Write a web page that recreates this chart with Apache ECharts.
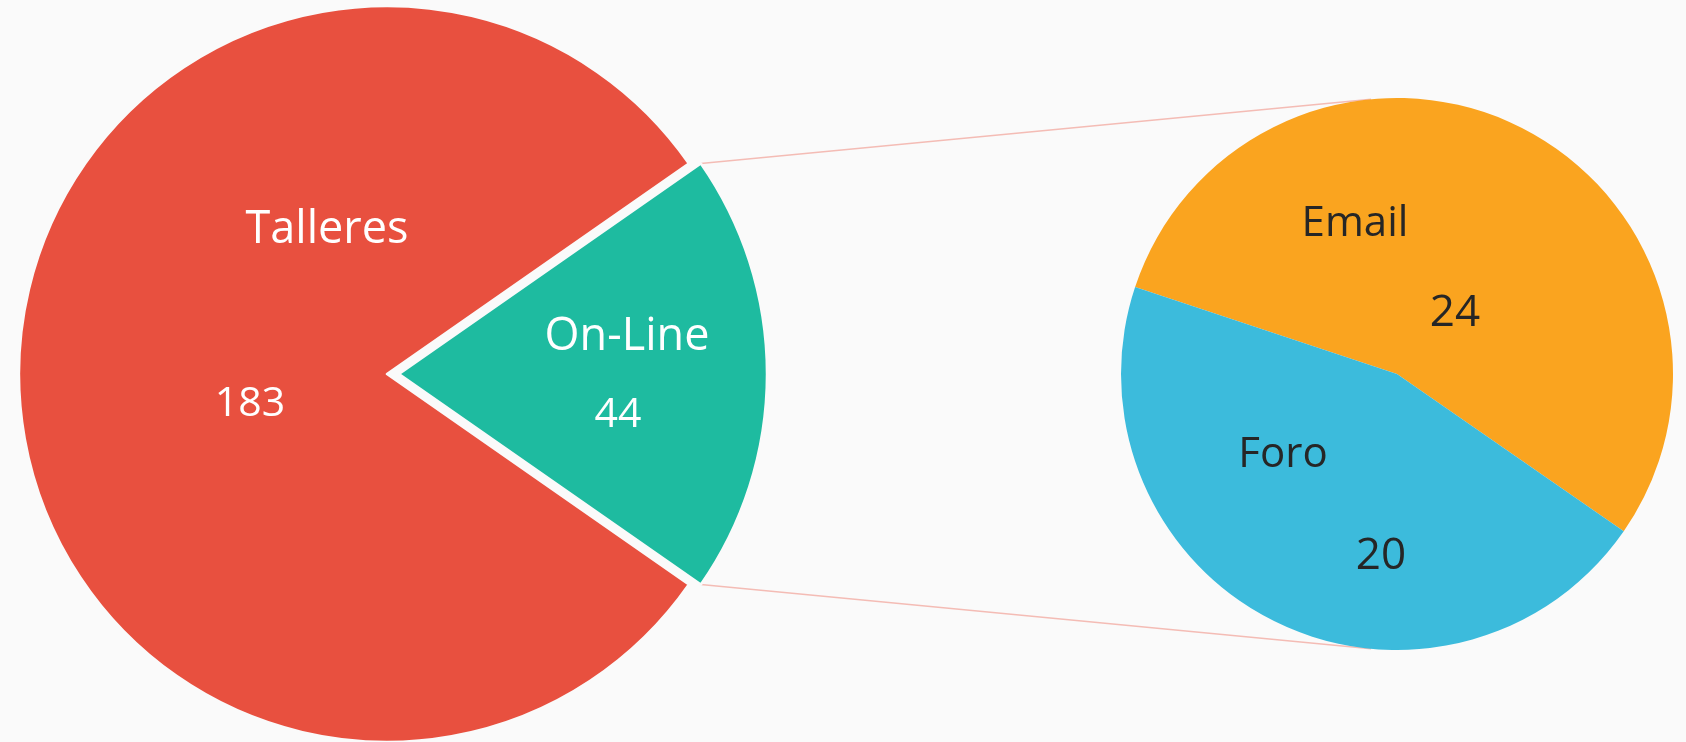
<!DOCTYPE html>
<html>
<head>
<meta charset="utf-8">
<script src="https://cdn.jsdelivr.net/npm/echarts@6/dist/echarts.min.js"></script>
<style>
  html, body { margin: 0; padding: 0; background: #fafafa; }
  #chart { width: 1686px; height: 742px; }
</style>
</head>
<body>
<div id="chart"></div>
<script>
// ---- data ----
const mainCategories = ['On-Line', 'Talleres'];
const mainValues = [44, 183];
const subCategories = ['Email', 'Foro'];
const subValues = [24, 20];

// ---- layout / style ----
const FONT = '"Open Sans", "Noto Sans", sans-serif';
const mainColors = ['#1ebba0', '#e8503f'];
const subColors = ['#faa41f', '#3cbbdc'];
const C1 = [387, 374], R1 = 368, OFF = 12;
const C2 = [1397, 374], R2 = 276;
const subStart = 161.6;
// label offsets from pie centers [name, value]
const mainNamePos = [[240, -37], [-60, -144]];
const mainValPos = [[231, 41], [-137, 30]];
const subNamePos = [[-42, -150], [-114, 81]];
const subValPos = [[58, -61], [-16, 182]];

const total = mainValues.reduce((a, b) => a + b, 0);
const half = 180 * mainValues[0] / total;
const rad = d => d * Math.PI / 180;

const mainData = mainCategories.map((n, i) => ({
  name: n, value: mainValues[i], selected: i === 0,
  itemStyle: { color: mainColors[i] }
}));
const subData = subCategories.map((n, i) => ({
  name: n, value: subValues[i], itemStyle: { color: subColors[i] }
}));

function layoutFn(center, pos) {
  return function (p) {
    const o = pos[p.dataIndex];
    return { x: center[0] + o[0], y: center[1] + o[1], align: 'center', verticalAlign: 'middle' };
  };
}

function pieSeries(data, center, radius, startAngle, opts) {
  return Object.assign({
    type: 'pie', center: center, radius: radius, startAngle: startAngle,
    clockwise: true, animation: false, silent: true,
    labelLine: { show: false },
    emphasis: { disabled: true }
  }, opts, { data: data });
}

const transparentify = d => d.map(x => ({ name: x.name, value: x.value, itemStyle: { color: 'rgba(0,0,0,0)', borderWidth: 0 } }));

function labelSeries(data, center, radius, startAngle, fmt, color, size, pos) {
  return pieSeries(transparentify(data), center, radius, startAngle, {
    z: 5,
    label: { show: true, position: 'inside', formatter: fmt, color: color, fontFamily: FONT, fontSize: size },
    labelLayout: layoutFn(center, pos)
  });
}

// connector lines
const endAng = rad(95.4);
const sx = C1[0] + OFF + R1 * Math.cos(rad(half));
const sy = R1 * Math.sin(rad(half));
const ex = C2[0] + R2 * Math.cos(endAng);
const ey = R2 * Math.sin(endAng);

const chart = echarts.init(document.getElementById('chart'));
chart.setOption({
  backgroundColor: '#fafafa',
  graphic: [
    { type: 'line', z: 0, shape: { x1: sx, y1: C1[1] - sy, x2: ex, y2: C2[1] - ey }, style: { stroke: '#f4bcb5', lineWidth: 1.6 } },
    { type: 'line', z: 0, shape: { x1: sx, y1: C1[1] + sy, x2: ex, y2: C2[1] + ey }, style: { stroke: '#f4bcb5', lineWidth: 1.6 } }
  ],
  series: [
    pieSeries(mainData, C1, R1, half, {
      selectedMode: 'single', selectedOffset: OFF,
      itemStyle: { borderColor: '#fafafa', borderWidth: 2.5 },
      label: { show: false }
    }),
    labelSeries(mainData, C1, R1, half, '{b}', '#ffffff', 45, mainNamePos),
    labelSeries(mainData, C1, R1, half, '{c}', '#ffffff', 41, mainValPos),
    pieSeries(subData, C2, R2, subStart, { label: { show: false } }),
    labelSeries(subData, C2, R2, subStart, '{b}', '#262626', 42, subNamePos),
    labelSeries(subData, C2, R2, subStart, '{c}', '#262626', 44, subValPos)
  ]
});
</script>
</body>
</html>
